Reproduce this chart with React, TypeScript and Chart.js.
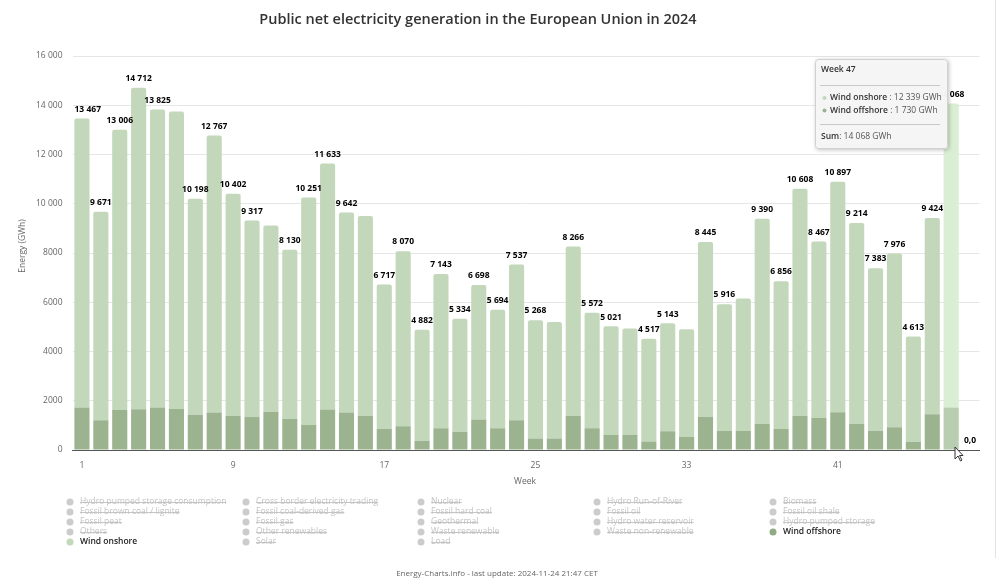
import React, { useEffect, useRef } from "react";
import { Chart, registerables } from "chart.js";

Chart.register(...registerables);

const FONT = '"Open Sans", "DejaVu Sans", sans-serif';

const titleText = "Public net electricity generation in the European Union in 2024";
const footerText = "Energy-Charts.info - last update: 2024-11-24 21:47 CET";
const yAxisTitle = "Energy (GWh)";
const xAxisTitle = "Week";

const weeks = [
  "1", "2", "3", "4", "5", "6", "7", "8", "9", "10", "11", "12",
  "13", "14", "15", "16", "17", "18", "19", "20", "21", "22", "23", "24",
  "25", "26", "27", "28", "29", "30", "31", "32", "33", "34", "35", "36",
  "37", "38", "39", "40", "41", "42", "43", "44", "45", "46", "47", "48",
];

const windOffshore = [
  1730, 1208, 1620, 1650, 1730, 1665, 1436, 1525, 1380, 1350, 1545, 1265,
  1020, 1640, 1525, 1380, 859, 966, 376, 886, 738, 1235, 886, 1208,
  470, 470, 1380, 880, 620, 620, 350, 760, 540, 1355, 770, 770,
  1070, 850, 1395, 1300, 1530, 1070, 785, 920, 340, 1450, 1729.6, 0,
];

const windOnshore = [
  11737, 8463, 11386, 13062, 12095, 12085, 8762, 11242, 9022, 7967, 7575, 6865,
  9231, 9993, 8117, 8120, 5858, 7104, 4506, 6257, 4596, 5463, 4808, 6329,
  4798, 4730, 6886, 4692, 4401, 4310, 4167, 4383, 4360, 7090, 5146, 5380,
  8320, 6006, 9213, 7167, 9367, 8144, 6598, 7056, 4273, 7974, 12338.6, 0,
];

// weeks whose stack total label is hidden (overlap) in the original
const hiddenLabelWeeks = ["6", "11", "16", "26", "30", "33", "36"];
const xTickWeeks = ["1", "9", "17", "25", "33", "41"];
const hoveredWeek = "47";

const legendRows = [
  ["Hydro pumped storage consumption", "Cross border electricity trading", "Nuclear", "Hydro Run-of-River", "Biomass"],
  ["Fossil brown coal / lignite", "Fossil coal-derived gas", "Fossil hard coal", "Fossil oil", "Fossil oil shale"],
  ["Fossil peat", "Fossil gas", "Geothermal", "Hydro water reservoir", "Hydro pumped storage"],
  ["Others", "Other renewables", "Waste renewable", "Waste non-renewable", "Wind offshore"],
  ["Wind onshore", "Solar", "Load"],
];

const COL_ON = "#c3d8bb";
const COL_OFF = "#9bb38f";
const COL_ON_HOVER = "#d9eed2";
const COL_OFF_HOVER = "#b9cdb0";

function fmtSpace(n: number): string {
  const r = Math.round(n);
  return String(r).replace(/\B(?=(\d{3})+(?!\d))/g, " ");
}
function fmtAxis(n: number): string {
  if (Math.abs(n) < 10000) return String(n);
  return fmtSpace(n);
}

const decorPlugin = {
  id: "decor",
  afterDatasetsDraw(chart: any) {
    const ctx = chart.ctx;
    const xs = chart.scales.x;
    const ys = chart.scales.y;
    const area = chart.chartArea;
    ctx.save();
    ctx.font = `bold 8.5px ${FONT}`;
    ctx.fillStyle = "#000";
    ctx.textAlign = "left";
    ctx.textBaseline = "bottom";
    weeks.forEach((w, i) => {
      if (hiddenLabelWeeks.includes(w)) return;
      const total = windOnshore[i] + windOffshore[i];
      const x = xs.getPixelForValue(i);
      const y = ys.getPixelForValue(total) - 5;
      const txt = total === 0 ? "0,0" : fmtSpace(total);
      const tw = ctx.measureText(txt).width;
      let left = x - tw / 2;
      if (left < area.left + 2) left = area.left + 2;
      if (left + tw > area.right - 2) left = area.right - 2 - tw;
      ctx.fillText(txt, left, y);
    });
    ctx.restore();
  },
  afterDraw(chart: any) {
    const ctx = chart.ctx;
    ctx.save();

    // title
    ctx.fillStyle = "#333";
    ctx.font = `600 14.5px ${FONT}`;
    ctx.textAlign = "center";
    ctx.textBaseline = "middle";
    ctx.fillText(titleText, 478, 20);

    // y axis title
    ctx.save();
    ctx.translate(23, 246);
    ctx.rotate(-Math.PI / 2);
    ctx.font = `8.5px ${FONT}`;
    ctx.fillStyle = "#666";
    ctx.fillText(yAxisTitle, 0, 0);
    ctx.restore();

    // x axis title
    ctx.font = `8.5px ${FONT}`;
    ctx.fillStyle = "#666";
    ctx.fillText(xAxisTitle, 525, 482);

    // legend
    const colX = [70, 246, 421, 597, 773];
    const rowY = [502, 512, 522, 532, 542];
    ctx.textAlign = "left";
    legendRows.forEach((row, r) => {
      row.forEach((name, c) => {
        const bx = colX[c];
        const by = rowY[r];
        let visible = false;
        let bullet = "#cccccc";
        if (name === "Wind onshore") { visible = true; bullet = COL_ON; }
        if (name === "Wind offshore") { visible = true; bullet = "#8faa84"; }
        ctx.beginPath();
        ctx.arc(bx, by, 3.5, 0, Math.PI * 2);
        ctx.fillStyle = bullet;
        ctx.fill();
        ctx.font = visible ? `600 8.5px ${FONT}` : `8.5px ${FONT}`;
        ctx.fillStyle = visible ? "#222" : "#c4c4c4";
        ctx.fillText(name, bx + 10, by);
        if (!visible) {
          const w = ctx.measureText(name).width;
          ctx.strokeStyle = "#c4c4c4";
          ctx.lineWidth = 1;
          ctx.beginPath();
          ctx.moveTo(bx + 10, by + 0.5);
          ctx.lineTo(bx + 10 + w, by + 0.5);
          ctx.stroke();
        }
      });
    });

    // footer
    ctx.textAlign = "center";
    ctx.font = `8px ${FONT}`;
    ctx.fillStyle = "#666";
    ctx.fillText(footerText, 497, 574);

    // right border line
    ctx.strokeStyle = "#e2e2e2";
    ctx.lineWidth = 1;
    ctx.beginPath();
    ctx.moveTo(995.5, 0);
    ctx.lineTo(995.5, 558);
    ctx.stroke();

    // tooltip
    const hi = weeks.indexOf(hoveredWeek);
    const on = windOnshore[hi];
    const off = windOffshore[hi];
    const tx = 815, ty = 59, tw = 133, th = 90;
    ctx.save();
    ctx.shadowColor = "rgba(0,0,0,0.25)";
    ctx.shadowBlur = 4;
    ctx.shadowOffsetX = 1;
    ctx.shadowOffsetY = 1;
    ctx.fillStyle = "rgba(247,247,247,0.97)";
    ctx.beginPath();
    ctx.roundRect(tx, ty, tw, th, 3);
    ctx.fill();
    ctx.restore();
    ctx.strokeStyle = "#d0d0d0";
    ctx.lineWidth = 1;
    ctx.beginPath();
    ctx.roundRect(tx + 0.5, ty + 0.5, tw - 1, th - 1, 3);
    ctx.stroke();

    ctx.textAlign = "left";
    ctx.textBaseline = "middle";
    ctx.fillStyle = "#333";
    ctx.font = `600 8.5px ${FONT}`;
    ctx.fillText(`Week ${hoveredWeek}`, 821, 70);

    ctx.strokeStyle = "#c8c8c8";
    ctx.lineWidth = 1;
    ctx.beginPath();
    ctx.moveTo(820, 85.5);
    ctx.lineTo(940, 85.5);
    ctx.moveTo(820, 124.5);
    ctx.lineTo(940, 124.5);
    ctx.stroke();

    const rows: [string, number, string][] = [
      ["Wind onshore", on, COL_ON],
      ["Wind offshore", off, COL_OFF],
    ];
    rows.forEach(([name, v, col], k) => {
      const y = 98 + k * 12.5;
      ctx.beginPath();
      ctx.arc(824.5, y, 2, 0, Math.PI * 2);
      ctx.fillStyle = col;
      ctx.fill();
      ctx.font = `600 8.5px ${FONT}`;
      ctx.fillStyle = "#333";
      ctx.fillText(name, 830, y);
      const w = ctx.measureText(name).width;
      ctx.font = `8.5px ${FONT}`;
      ctx.fillStyle = "#555";
      ctx.fillText(` : ${fmtSpace(v)} GWh`, 830 + w, y);
    });
    ctx.font = `600 8.5px ${FONT}`;
    ctx.fillStyle = "#333";
    ctx.fillText("Sum", 821, 137);
    const sw = ctx.measureText("Sum").width;
    ctx.font = `8.5px ${FONT}`;
    ctx.fillStyle = "#555";
    ctx.fillText(`: ${fmtSpace(on + off)} GWh`, 821 + sw, 137);

    // cursor
    ctx.fillStyle = "#fff";
    ctx.strokeStyle = "#333";
    ctx.beginPath();
    ctx.moveTo(955, 447);
    ctx.lineTo(955, 459);
    ctx.lineTo(958, 456);
    ctx.lineTo(960.5, 461);
    ctx.lineTo(962, 460);
    ctx.lineTo(959.5, 455.5);
    ctx.lineTo(963, 455.5);
    ctx.closePath();
    ctx.fill();
    ctx.stroke();

    ctx.restore();
  },
};

export default function App() {
  const ref = useRef<HTMLCanvasElement | null>(null);
  useEffect(() => {
    if (!ref.current) return;
    const hi = weeks.indexOf(hoveredWeek);
    const chart = new Chart(ref.current, {
      type: "bar",
      data: {
        labels: weeks,
        datasets: [
          {
            label: "Wind offshore",
            data: windOffshore,
            backgroundColor: weeks.map((_, i) => (i === hi ? COL_OFF_HOVER : COL_OFF)),
            borderRadius: 2,
            barPercentage: 0.8,
            categoryPercentage: 1,
            stack: "s",
          },
          {
            label: "Wind onshore",
            data: windOnshore,
            backgroundColor: weeks.map((_, i) => (i === hi ? COL_ON_HOVER : COL_ON)),
            borderRadius: 2,
            barPercentage: 0.8,
            categoryPercentage: 1,
            stack: "s",
          },
        ],
      },
      options: {
        responsive: false,
        animation: false,
        devicePixelRatio: 1,
        layout: { padding: { left: 0, right: 20.5, top: 56, bottom: 0 } },
        plugins: {
          legend: { display: false },
          tooltip: { enabled: false },
          title: { display: false },
        },
        events: [],
        scales: {
          x: {
            stacked: true,
            grid: { display: false, drawTicks: false },
            border: { display: true, color: "#555", width: 1 },
            ticks: {
              autoSkip: false,
              maxRotation: 0,
              padding: 10,
              color: "#666",
              font: { family: FONT, size: 8.5 },
              callback: (_v: any, i: number) => (xTickWeeks.includes(weeks[i]) ? weeks[i] : ""),
            },
            afterFit: (s: any) => { s.height = 134; },
          },
          y: {
            stacked: true,
            min: 0,
            max: 16000,
            grid: { color: "#e6e6e6", drawTicks: false, lineWidth: 1 },
            border: { display: false },
            ticks: {
              stepSize: 2000,
              padding: 10,
              color: "#666",
              font: { family: FONT, size: 8.5 },
              callback: (v: any) => fmtAxis(Number(v)),
            },
            afterFit: (s: any) => { s.width = 72.5; },
          },
        },
      },
      plugins: [decorPlugin],
    });
    return () => chart.destroy();
  }, []);
  return (
    <div style={{ position: "absolute", left: 0, top: 0, width: 1000, height: 584, background: "#fff" }}>
      <canvas ref={ref} width={1000} height={584} style={{ width: 1000, height: 584, display: "block" }} />
    </div>
  );
}
